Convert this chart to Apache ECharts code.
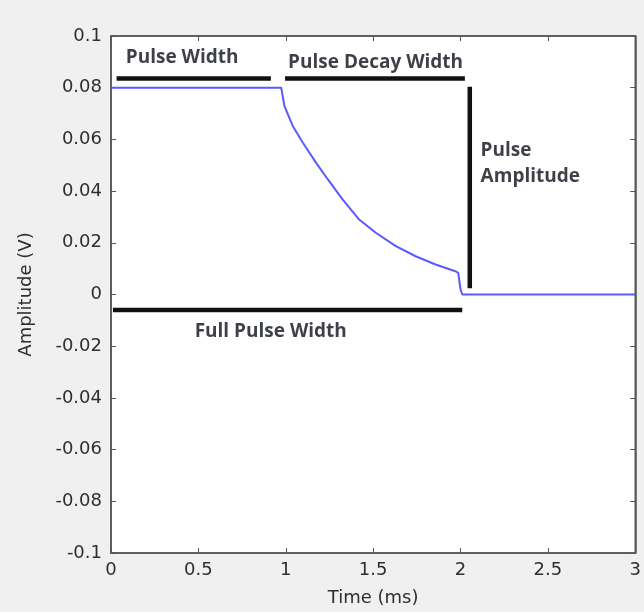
<!DOCTYPE html>
<html>
<head>
<meta charset="utf-8">
<script src="https://cdn.jsdelivr.net/npm/echarts@6/dist/echarts.min.js"></script>
<style>
html,body{margin:0;padding:0;background:#f0f0f0;}
#c{width:644px;height:612px;}
</style>
</head>
<body>
<div id="c"></div>
<script>
// ---- data ----
const timeMs = [0, 0.974, 0.992, 1.04, 1.097, 1.173, 1.24, 1.325, 1.42, 1.515, 1.63, 1.743, 1.857, 1.97, 1.987, 2.0, 2.01, 3.0];
const amplitudeV = [0.08, 0.08, 0.073, 0.0652, 0.0588, 0.051, 0.0446, 0.0368, 0.029, 0.0239, 0.0187, 0.0148, 0.0116, 0.009, 0.0084, 0.002, 0, 0];

const xTicks = [0, 0.5, 1, 1.5, 2, 2.5, 3];
const yTicks = [-0.1, -0.08, -0.06, -0.04, -0.02, 0, 0.02, 0.04, 0.06, 0.08, 0.1];

// annotation bars: [x, y] endpoints
const pulseWidthBar = [[0.032, 0.0836], [0.915, 0.0836]];
const decayWidthBar = [[0.996, 0.0836], [2.025, 0.0836]];
const amplitudeBar = [[2.053, 0.0804], [2.053, 0.0024]];
const fullWidthBar = [[0.011, -0.006], [2.01, -0.006]];

// annotation labels: [x, y, text]
const centeredLabels = [
  [0.407, 0.0915, 'Pulse Width'],
  [1.514, 0.0898, 'Pulse Decay Width'],
  [0.914, -0.0144, 'Full Pulse Width']
];
const leftLabels = [
  [2.115, 0.0505, 'Pulse\nAmplitude']
];

const chart = echarts.init(document.getElementById('c'), null, {renderer: 'canvas'});
const tickFont = {fontFamily: 'DejaVu Sans', fontSize: 18, color: '#2e2e2e'};
const annFont = {fontFamily: 'Open Sans', fontWeight: 'bold', fontSize: 19, color: '#0d1018'};

function bar(d) {
  return {
    type: 'line', data: d, symbol: 'none', silent: true,
    lineStyle: {color: '#111', width: 4.5}, z: 3, animation: false
  };
}
const axLine = {show: true, onZero: false, lineStyle: {color: '#555', width: 1.5}};
const axTick = {show: true, inside: true, length: 5, lineStyle: {color: '#555'}};

chart.setOption({
  backgroundColor: '#f0f0f0',
  animation: false,
  grid: {left: 111, right: 6, top: 36, bottom: 59, show: true, backgroundColor: '#fff', borderColor: '#555', borderWidth: 1.5},
  xAxis: [{
    type: 'value', min: 0, max: 3, interval: 0.5, position: 'bottom',
    name: 'Time (ms)', nameLocation: 'middle', nameGap: 36,
    nameTextStyle: {fontFamily: 'DejaVu Sans', fontSize: 18, color: '#2e2e2e'},
    axisLine: axLine, axisTick: axTick,
    axisLabel: Object.assign({margin: 8, formatter: v => String(v)}, tickFont),
    splitLine: {show: false}
  }, {
    type: 'value', min: 0, max: 3, interval: 0.5, position: 'top',
    axisLine: axLine, axisTick: axTick,
    axisLabel: {show: false}, splitLine: {show: false}
  }],
  yAxis: [{
    type: 'value', min: -0.1, max: 0.1, interval: 0.02, position: 'left',
    name: 'Amplitude (V)', nameLocation: 'middle', nameGap: 76,
    nameTextStyle: {fontFamily: 'DejaVu Sans', fontSize: 18, color: '#2e2e2e'},
    axisLine: axLine, axisTick: axTick,
    axisLabel: Object.assign({margin: 9, formatter: v => String(Math.round(v * 100) / 100)}, tickFont),
    splitLine: {show: false}
  }, {
    type: 'value', min: -0.1, max: 0.1, interval: 0.02, position: 'right',
    axisLine: axLine, axisTick: axTick,
    axisLabel: {show: false}, splitLine: {show: false}
  }],
  series: [
    {
      type: 'line', data: timeMs.map((t, i) => [t, amplitudeV[i]]),
      symbol: 'none', lineStyle: {color: '#5a5aff', width: 2}, z: 4
    },
    bar(pulseWidthBar), bar(decayWidthBar), bar(amplitudeBar), bar(fullWidthBar),
    {
      type: 'scatter', symbolSize: 0, silent: true, z: 5,
      data: centeredLabels.map(l => ({value: [l[0], l[1]], name: l[2]})),
      label: Object.assign({show: true, position: 'inside', formatter: p => p.name}, annFont)
    },
    {
      type: 'scatter', symbolSize: 0, silent: true, z: 5,
      data: leftLabels.map(l => ({value: [l[0], l[1]], name: l[2]})),
      label: Object.assign({show: true, position: 'right', distance: 0, align: 'left', lineHeight: 26, formatter: p => p.name}, annFont)
    }
  ]
});
</script>
</body>
</html>
